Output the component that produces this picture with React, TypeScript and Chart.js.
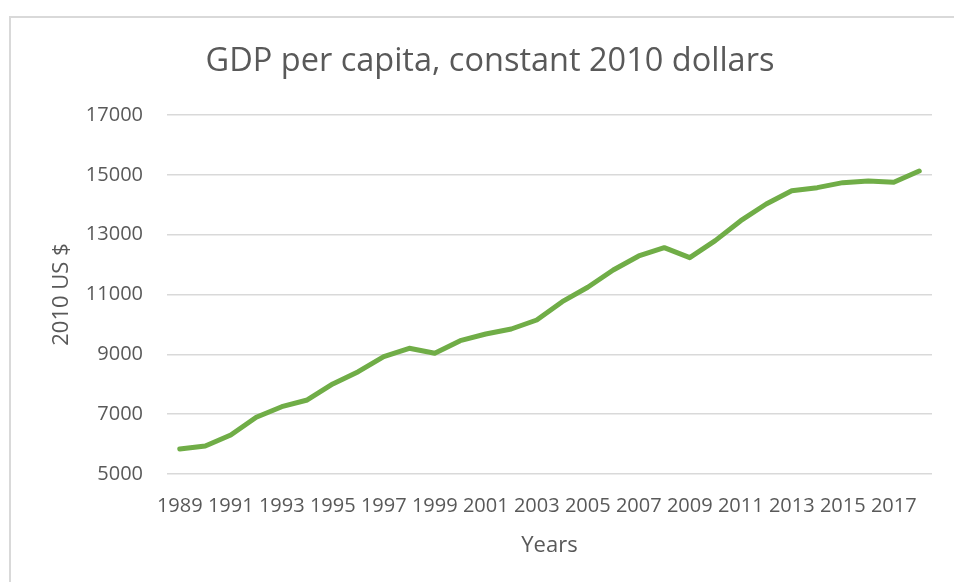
import React, { useEffect, useRef } from "react";
import { Chart, registerables } from "chart.js";

Chart.register(...registerables);

const years: string[] = [
  "1989", "1990", "1991", "1992", "1993", "1994", "1995", "1996", "1997", "1998",
  "1999", "2000", "2001", "2002", "2003", "2004", "2005", "2006", "2007", "2008",
  "2009", "2010", "2011", "2012", "2013", "2014", "2015", "2016", "2017", "2018",
];

const gdpPerCapita: number[] = [
  5836, 5936, 6304, 6895, 7250, 7474, 8009, 8420, 8922, 9201,
  9034, 9456, 9680, 9847, 10148, 10760, 11241, 11820, 12288, 12566,
  12232, 12800, 13468, 14026, 14471, 14571, 14738, 14795, 14751, 15129,
];

const chartTitle = "GDP per capita, constant 2010 dollars";
const yAxisTitle = "2010 US $";
const xAxisTitle = "Years";
const yMin = 5000;
const yMax = 17000;
const yStep = 2000;

const TEXT = "#595959";
const GRID = "#d9d9d9";
const LINE = "#70ad47";
const FONT = "'Open Sans', Lato, sans-serif";

export default function App() {
  const canvasRef = useRef<HTMLCanvasElement | null>(null);

  useEffect(() => {
    if (!canvasRef.current) return;
    const chart = new Chart(canvasRef.current, {
      type: "line",
      data: {
        labels: years,
        datasets: [
          {
            label: "GDP per capita",
            data: gdpPerCapita,
            borderColor: LINE,
            backgroundColor: LINE,
            borderWidth: 5,
            pointRadius: 0,
            tension: 0,
            borderCapStyle: "round",
            borderJoinStyle: "round",
          },
        ],
      },
      options: {
        animation: false,
        responsive: false,
        maintainAspectRatio: false,
        layout: { padding: { left: 48, right: 22, top: 0, bottom: 0 } },
        plugins: {
          legend: { display: false },
          tooltip: { enabled: false },
          title: {
            display: true,
            text: chartTitle,
            color: TEXT,
            font: { family: FONT, size: 32.5, weight: "normal", lineHeight: 1.2 },
            padding: { top: 42.5, bottom: 33.5 },
          },
        },
        scales: {
          x: {
            offset: true,
            grid: { display: false, drawTicks: false },
            border: { display: false },
            afterFit: (scale: any) => {
              scale.height = 108;
            },
            ticks: {
              autoSkip: false,
              maxRotation: 0,
              minRotation: 0,
              padding: 20,
              color: TEXT,
              font: { family: FONT, size: 20 },
              callback: function (this: any, value: any, index: number) {
                return index % 2 === 0 ? this.getLabelForValue(value) : "";
              },
            },
            title: {
              display: true,
              text: xAxisTitle,
              color: TEXT,
              font: { family: FONT, size: 22, lineHeight: 1.2 },
              padding: { top: 0, bottom: 22.8 },
            },
          },
          y: {
            min: yMin,
            max: yMax,
            grid: { color: GRID, lineWidth: 1.5, drawTicks: false },
            border: { display: false },
            afterFit: (scale: any) => {
              scale.width = 119;
            },
            ticks: {
              stepSize: yStep,
              padding: 24,
              color: TEXT,
              font: { family: FONT, size: 20 },
              callback: (value: any) => String(value),
            },
            title: {
              display: true,
              text: yAxisTitle,
              color: TEXT,
              font: { family: FONT, size: 22, lineHeight: 1.2 },
              padding: { top: 0.8, bottom: 0 },
            },
          },
        },
      },
    });
    return () => chart.destroy();
  }, []);

  return (
    <div style={{ position: "absolute", left: 0, top: 0, width: 954, height: 582, background: "#fff", overflow: "hidden" }}>
      <div
        style={{
          position: "absolute",
          left: 9,
          top: 16,
          width: 1000,
          height: 700,
          borderLeft: "2px solid " + GRID,
          borderTop: "2px solid " + GRID,
        }}
      />
      <canvas ref={canvasRef} width={954} height={582} style={{ position: "absolute", left: 0, top: 0, width: 954, height: 582 }} />
    </div>
  );
}
